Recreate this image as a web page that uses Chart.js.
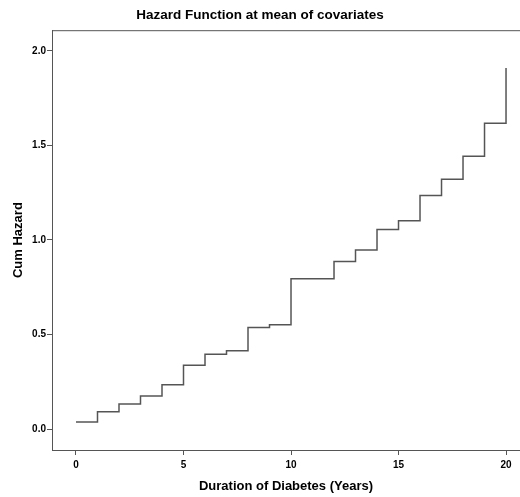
<!DOCTYPE html>
<html>
<head>
<meta charset="utf-8">
<script src="https://cdn.jsdelivr.net/npm/chart.js@4.4.1/dist/chart.umd.min.js"></script>
<style>
  html, body { margin: 0; padding: 0; background: #fff; }
  #wrap { width: 520px; height: 497px; position: relative; }
</style>
</head>
<body>
<div id="wrap"><canvas id="chartHazard" width="520" height="497"></canvas></div>
<script>
// Cumulative hazard steps
const years  = [0, 1, 2, 3, 4, 5, 6, 7, 8, 9, 10, 12, 13, 14, 15, 16, 17, 18, 19, 20];
const hazard = [0.037, 0.091, 0.132, 0.174, 0.234, 0.337, 0.396, 0.414, 0.537, 0.551,
                0.794, 0.886, 0.946, 1.055, 1.101, 1.235, 1.321, 1.443, 1.617, 1.909];
const xTicks = [0, 5, 10, 15, 20];
const yTicks = [0, 0.5, 1.0, 1.5, 2.0];

const axisColor = "#555";
const tickFont = { family: "Liberation Sans", size: 10, weight: "bold" };
const labelFont = { family: "Liberation Sans", size: 13, weight: "bold" };

// top frame line of the plot box
const topFrame = {
  id: "topFrame",
  afterDraw(chart) {
    const { ctx, chartArea } = chart;
    ctx.save();
    ctx.strokeStyle = axisColor;
    ctx.lineWidth = 1;
    ctx.beginPath();
    ctx.moveTo(chartArea.left, chartArea.top + 0.5);
    ctx.lineTo(chartArea.right, chartArea.top + 0.5);
    ctx.stroke();
    ctx.restore();
  }
};

new Chart(document.getElementById("chartHazard").getContext("2d"), {
  type: "line",
  data: {
    datasets: [{
      data: years.map((x, i) => ({ x, y: hazard[i] })),
      stepped: "before",
      borderColor: "#555",
      borderWidth: 1.5,
      pointRadius: 0,
      fill: false
    }]
  },
  options: {
    responsive: false,
    animation: false,
    layout: { padding: { left: 0, right: 0, top: 0, bottom: 0 } },
    plugins: {
      legend: { display: false },
      tooltip: { enabled: false },
      title: {
        display: true,
        text: "Hazard Function at mean of covariates",
        color: "#000",
        font: { family: "Liberation Sans", size: 13.5, weight: "bold" },
        padding: { top: 7, bottom: 7 }
      }
    },
    scales: {
      x: {
        type: "linear",
        min: -1.116,
        max: 20.65,
        afterBuildTicks: s => { s.ticks = xTicks.map(v => ({ value: v })); },
        afterFit: s => { s.height = 47; },
        ticks: { color: "#000", font: tickFont, padding: 4, maxRotation: 0, callback: v => String(v) },
        grid: { drawOnChartArea: false, drawTicks: true, tickLength: 5, color: axisColor },
        border: { display: true, color: axisColor, width: 1 },
        title: { display: true, text: "Duration of Diabetes (Years)", color: "#000", font: labelFont, padding: { top: 0, bottom: 3 } }
      },
      y: {
        type: "linear",
        min: -0.111,
        max: 2.109,
        afterBuildTicks: s => { s.ticks = yTicks.map(v => ({ value: v })); },
        afterFit: s => { s.width = 52; },
        ticks: { color: "#000", font: tickFont, padding: 1, callback: v => v.toFixed(1) },
        grid: { drawOnChartArea: false, drawTicks: true, tickLength: 5, color: axisColor },
        border: { display: true, color: axisColor, width: 1 },
        title: { display: true, text: "Cum Hazard", color: "#000", font: labelFont, padding: { top: 11, bottom: 0 } }
      }
    }
  },
  plugins: [topFrame]
});
</script>
</body>
</html>
